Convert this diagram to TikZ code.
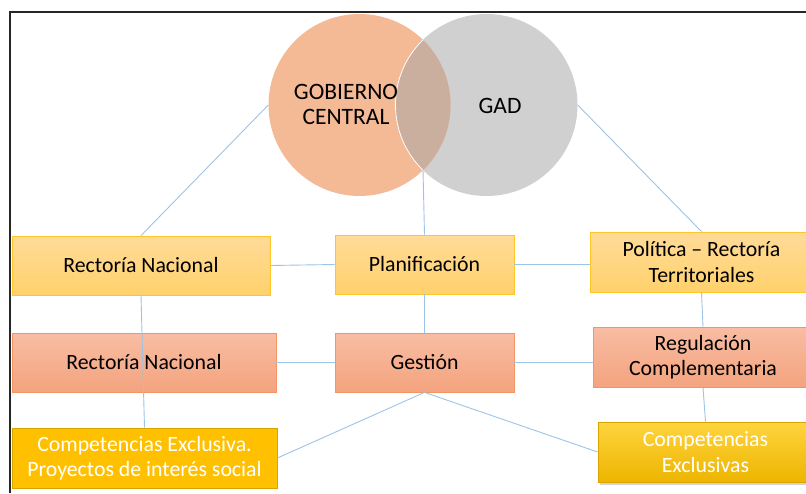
\documentclass[tikz,border=0pt]{standalone}
\usepackage{fontspec}
\setmainfont{Carlito}
\usetikzlibrary{shadows}

\definecolor{gcfill}{HTML}{F4BA96}
\definecolor{gadfill}{HTML}{D0D0D0}
\definecolor{mixfill}{HTML}{CAAE9E}
\definecolor{linkblue}{HTML}{9DC3E6}
\definecolor{paletop}{HTML}{FFDB98}
\definecolor{palebot}{HTML}{FFD16C}
\definecolor{paleline}{HTML}{FFC62A}
\definecolor{salmontop}{HTML}{F8BDA3}
\definecolor{salmonbot}{HTML}{F4A37E}
\definecolor{salmonline}{HTML}{F29464}
\definecolor{goldfill}{HTML}{FFC000}
\definecolor{goldline}{HTML}{D9A300}
\definecolor{goldtop}{HTML}{FFD43E}
\definecolor{goldbot}{HTML}{EDB500}

\begin{document}
\begin{tikzpicture}[x=1pt, y=-1pt,
	every node/.style={font=\fontsize{21.8}{25.5}\selectfont, align=center, inner sep=0pt},
	venn/.style={circle, minimum size=182pt},
	venntext/.style={font=\fontsize{23.5}{25}\selectfont},
	box/.style={rectangle, minimum height=59pt, line width=0.8pt},
	pale/.style={box, draw=paleline, top color=paletop, bottom color=palebot},
	salmon/.style={box, draw=salmonline, top color=salmontop, bottom color=salmonbot},
	gold/.style={box, draw=goldline, fill=goldfill, text=white},
	link/.style={draw=linkblue, line width=0.9pt}]
	\useasboundingbox (0,0) rectangle (806,493);
	\draw[line width=2pt, black!85] (10,493) |- (810,12);

	\node[venn, fill=gadfill] (gad) at (486.5,105) {};
	\node[venn, fill=gcfill] (gc) at (359.5,105) {};
	\begin{scope}
		\clip (359.5,105) circle (91);
		\fill[mixfill] (486.5,105) circle (91);
		\draw[white, line width=0.8pt] (486.5,105) circle (91);
	\end{scope}
	\coordinate (vb) at (423,170);
	\node[venntext] (gctext) at (346,104) {GOBIERNO\\CENTRAL};
	\node[venntext] (gadtext) at (500,106) {GAD};

	\node[pale, minimum width=258pt] (rn1) at (141,265.5) {Rectoría Nacional};
	\node[pale, minimum width=179pt] (plan) at (424.5,264.5) {Planificación};
	\node[pale, minimum width=223pt, minimum height=60pt] (pol) at (701.5,262) {Política – Rectoría\\Territoriales};

	\node[salmon, minimum width=264pt] (rn2) at (144,362.5) {Rectoría Nacional};
	\node[salmon, minimum width=179pt] (gest) at (424.5,362.5) {Gestión};
	\node[salmon, minimum width=220pt, minimum height=60pt] (reg) at (703,357) {Regulación\\Complementaria};

	\node[gold, minimum width=265pt, minimum height=60pt] (ce1) at (144.5,458) {Competencias Exclusiva.\\Proyectos de interés social};
	\node[gold, minimum width=215pt, minimum height=60pt, top color=goldtop, bottom color=goldbot, drop shadow={shadow xshift=2pt, shadow yshift=-3pt, opacity=0.35}] (ce2) at (705.5,452) {Competencias\\Exclusivas};

	\draw[link] (gc.west) -- (rn1.north);
	\draw[link] (vb) -- (plan.north);
	\draw[link] (gad.east) -- (pol.north);
	\draw[link] (rn1.east) -- (plan.west);
	\draw[link] (plan.east) -- (plan.east -| pol.west);
	\draw[link] (rn1.south) -- (ce1.north);
	\draw[link] (plan.south) -- (gest.north);
	\draw[link] (rn2.east) -- (gest.west);
	\draw[link] (gest.east) -- (gest.east -| reg.west);
	\draw[link] (pol.south) -- (reg.north);
	\draw[link] (reg.south) -- (ce2.north);
	\draw[link] (gest.south) -- (ce1.east);
	\draw[link] (gest.south) -- (ce2.west);
\end{tikzpicture}
\end{document}
